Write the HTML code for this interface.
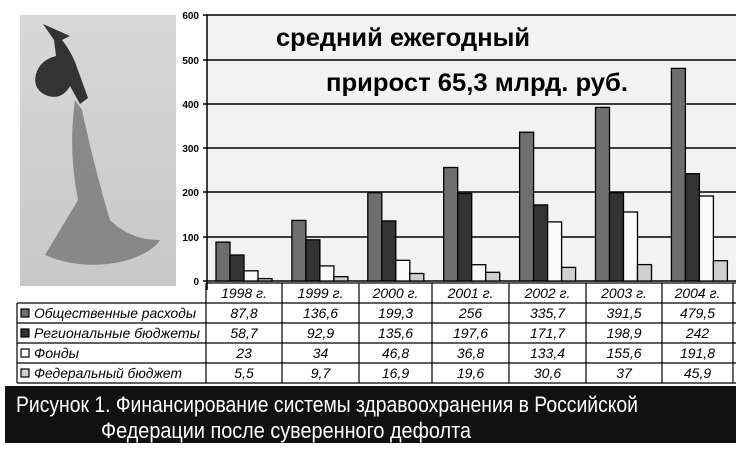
<!DOCTYPE html>
<html><head><meta charset="utf-8"><style>
body{margin:0;background:#fff;width:736px;height:455px;overflow:hidden;font-family:"Liberation Sans",sans-serif}
</style></head><body>
<svg width="736" height="455" xmlns="http://www.w3.org/2000/svg" font-family="Liberation Sans, sans-serif">
<defs><linearGradient id="ph" x1="0" y1="0" x2="0" y2="1"><stop offset="0" stop-color="#d8d8d8"/><stop offset="1" stop-color="#c8c8c8"/></linearGradient></defs>
<rect x="20" y="15" width="156" height="271" fill="url(#ph)"/>
<path d="M43 24 L70 36 L62 40 Q70 50 75 62 L88 98 L80 104 L70 86 Q62 100 48 96 Q32 90 36 74 Q40 60 56 56 L54 40 Z" fill="#333"/>
<path d="M75 100 Q68 150 78 200 Q60 230 45 255 Q80 270 120 262 Q150 255 160 240 Q130 240 110 220 Q95 170 82 110 Z" fill="#777" opacity="0.8"/>
<rect x="207" y="15" width="529" height="266" fill="#f2f2f2"/>
<g stroke="#000" stroke-width="1.5">
<line x1="203" y1="15" x2="736" y2="15"/><line x1="203" y1="60" x2="736" y2="60"/><line x1="203" y1="104" x2="736" y2="104"/><line x1="203" y1="148" x2="736" y2="148"/><line x1="203" y1="192" x2="736" y2="192"/><line x1="203" y1="237" x2="736" y2="237"/><line x1="203" y1="281" x2="736" y2="281"/>
<line x1="207" y1="15" x2="207" y2="290"/>
</g>
<g font-size="10" font-weight="bold" text-anchor="end">
<text x="199" y="19">600</text><text x="199" y="64">500</text><text x="199" y="108">400</text><text x="199" y="152">300</text><text x="199" y="196">200</text><text x="199" y="241">100</text><text x="199" y="285">0</text>
</g>
<text x="276" y="46" font-size="25" font-weight="bold" textLength="254" lengthAdjust="spacingAndGlyphs">средний ежегодный</text>
<text x="326" y="91" font-size="25" font-weight="bold" textLength="302" lengthAdjust="spacingAndGlyphs">прирост 65,3 млрд. руб.</text>
<g stroke="#000" stroke-width="1.3">
<g fill="#6e6e6e">
<rect x="216" y="242.1" width="14" height="38.9"/><rect x="291.9" y="220.4" width="14" height="60.6"/><rect x="367.8" y="192.7" width="14" height="88.3"/><rect x="443.7" y="167.5" width="14" height="113.5"/><rect x="519.6" y="132.2" width="14" height="148.8"/><rect x="595.5" y="107.4" width="14" height="173.6"/><rect x="671.4" y="68.4" width="14" height="212.6"/>
</g>
<g fill="#333">
<rect x="230" y="255" width="14" height="26"/><rect x="305.9" y="239.8" width="14" height="41.2"/><rect x="381.8" y="220.9" width="14" height="60.1"/><rect x="457.7" y="193.4" width="14" height="87.6"/><rect x="533.6" y="204.9" width="14" height="76.1"/><rect x="609.5" y="192.8" width="14" height="88.2"/><rect x="685.4" y="173.7" width="14" height="107.3"/>
</g>
<g fill="#fafafa">
<rect x="244" y="270.8" width="14" height="10.2"/><rect x="319.9" y="265.9" width="14" height="15.1"/><rect x="395.8" y="260.3" width="14" height="20.7"/><rect x="471.7" y="264.7" width="14" height="16.3"/><rect x="547.6" y="221.9" width="14" height="59.1"/><rect x="623.5" y="212" width="14" height="69"/><rect x="699.4" y="196" width="14" height="85"/>
</g>
<g fill="#d0d0d0">
<rect x="258" y="278.6" width="14" height="2.4"/><rect x="333.9" y="276.7" width="14" height="4.3"/><rect x="409.8" y="273.5" width="14" height="7.5"/><rect x="485.7" y="272.3" width="14" height="8.7"/><rect x="561.6" y="267.4" width="14" height="13.6"/><rect x="637.5" y="264.6" width="14" height="16.4"/><rect x="713.4" y="260.7" width="14" height="20.3"/>
</g>
</g>
<g stroke="#000" stroke-width="1.2">
<line x1="206" y1="283" x2="736" y2="283"/><line x1="17" y1="303" x2="736" y2="303"/><line x1="17" y1="323" x2="736" y2="323"/><line x1="17" y1="343" x2="736" y2="343"/><line x1="17" y1="363" x2="736" y2="363"/><line x1="17" y1="383" x2="736" y2="383"/>
<line x1="17" y1="303" x2="17" y2="383"/><line x1="206" y1="283" x2="206" y2="383"/><line x1="282" y1="283" x2="282" y2="383"/><line x1="359" y1="283" x2="359" y2="383"/><line x1="432" y1="283" x2="432" y2="383"/><line x1="509" y1="283" x2="509" y2="383"/><line x1="586" y1="283" x2="586" y2="383"/><line x1="662" y1="283" x2="662" y2="383"/><line x1="733" y1="283" x2="733" y2="383"/>
</g>
<g font-size="14" font-style="italic" text-anchor="middle">
<text x="244" y="298">1998 г.</text><text x="320.5" y="298">1999 г.</text><text x="395.5" y="298">2000 г.</text><text x="470.5" y="298">2001 г.</text><text x="547.5" y="298">2002 г.</text><text x="624" y="298">2003 г.</text><text x="697.5" y="298">2004 г.</text>
<text x="244" y="318">87,8</text><text x="320.5" y="318">136,6</text><text x="395.5" y="318">199,3</text><text x="470.5" y="318">256</text><text x="547.5" y="318">335,7</text><text x="624" y="318">391,5</text><text x="697.5" y="318">479,5</text>
<text x="244" y="338">58,7</text><text x="320.5" y="338">92,9</text><text x="395.5" y="338">135,6</text><text x="470.5" y="338">197,6</text><text x="547.5" y="338">171,7</text><text x="624" y="338">198,9</text><text x="697.5" y="338">242</text>
<text x="244" y="358">23</text><text x="320.5" y="358">34</text><text x="395.5" y="358">46,8</text><text x="470.5" y="358">36,8</text><text x="547.5" y="358">133,4</text><text x="624" y="358">155,6</text><text x="697.5" y="358">191,8</text>
<text x="244" y="378">5,5</text><text x="320.5" y="378">9,7</text><text x="395.5" y="378">16,9</text><text x="470.5" y="378">19,6</text><text x="547.5" y="378">30,6</text><text x="624" y="378">37</text><text x="697.5" y="378">45,9</text>
</g>
<g stroke="#000" stroke-width="1.2">
<rect x="21" y="309" width="8" height="8" fill="#6e6e6e"/><rect x="21" y="329" width="8" height="8" fill="#333"/><rect x="21" y="349" width="8" height="8" fill="#fafafa"/><rect x="21" y="369" width="8" height="8" fill="#d0d0d0"/>
</g>
<g font-size="14" font-style="italic">
<text x="34" y="318" textLength="162" lengthAdjust="spacingAndGlyphs">Общественные расходы</text>
<text x="34" y="338" textLength="166" lengthAdjust="spacingAndGlyphs">Региональные бюджеты</text>
<text x="34" y="358" textLength="45" lengthAdjust="spacingAndGlyphs">Фонды</text>
<text x="34" y="378" textLength="148" lengthAdjust="spacingAndGlyphs">Федеральный бюджет</text>
</g>
<rect x="5" y="386" width="731" height="57" fill="#111"/>
<text x="16" y="412" font-size="22" fill="#fff" textLength="622" lengthAdjust="spacingAndGlyphs">Рисунок 1. Финансирование системы здравоохранения в Российской</text>
<text x="101" y="438" font-size="22" fill="#fff" textLength="370" lengthAdjust="spacingAndGlyphs">Федерации после суверенного дефолта</text>
</svg>
</body></html>
